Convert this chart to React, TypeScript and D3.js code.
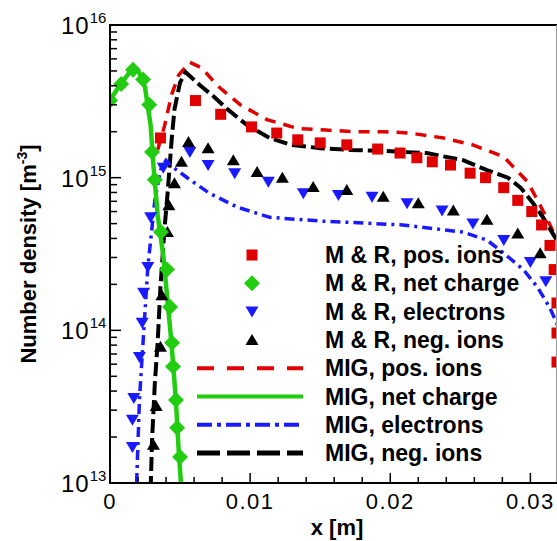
import React from 'react';
import * as d3 from 'd3';

// x in metres, number density in m^-3
const migPosIons: [number, number][] = [
  [0.0034, 1.52e15], [0.0039, 2.2e15], [0.0044, 3.5e15], [0.0049, 4.7e15], [0.0057, 5.7e15],
  [0.0066, 5.2e15], [0.0076, 4.05e15], [0.0093, 3.0e15], [0.0112, 2.4e15], [0.0134, 2.1e15],
  [0.0154, 2.05e15], [0.0175, 2.0e15], [0.0196, 2.0e15], [0.0214, 1.96e15], [0.0238, 1.82e15],
  [0.0259, 1.64e15], [0.0281, 1.37e15], [0.0298, 9.4e14], [0.0307, 6.6e14], [0.0314, 4.9e14],
  [0.0321, 3.6e14],
];

const migNetCharge: [number, number][] = [
  [0, 3.2e15], [0.0007, 4.05e15], [0.0014, 4.9e15], [0.0017, 5.3e15], [0.0021, 4.85e15],
  [0.0025, 3.9e15], [0.0029, 2.2e15], [0.0031, 1.2e15], [0.0034, 5.7e14], [0.0038, 3.1e14],
  [0.0041, 1.58e14], [0.0044, 8.0e13], [0.0047, 3.5e13], [0.0049, 1.65e13], [0.0051, 9.0e12],
];

const migElectrons: [number, number][] = [
  [0.0019, 1.0e13], [0.0021, 3.5e13], [0.0024, 9.6e13], [0.0027, 2.6e14], [0.0032, 7.1e14],
  [0.0036, 1.12e15], [0.004, 1.3e15], [0.0045, 1.17e15], [0.0057, 9.7e14], [0.0071, 7.9e14],
  [0.0091, 6.4e14], [0.0114, 5.5e14], [0.015, 5.2e14], [0.0209, 4.9e14], [0.0252, 4.4e14],
  [0.0269, 3.9e14], [0.0281, 3.2e14], [0.0295, 2.5e14], [0.0305, 1.92e14], [0.0314, 1.4e14],
  [0.0321, 1.0e14],
];

const migNegIons: [number, number][] = [
  [0.0029, 9.0e12], [0.003, 1.9e13], [0.0032, 4.5e13], [0.0034, 8.3e13], [0.0036, 1.92e14],
  [0.0039, 4.75e14], [0.0041, 7.7e14], [0.0044, 1.77e15], [0.0046, 2.8e15], [0.005, 4.2e15],
  [0.0054, 4.9e15], [0.0064, 4.05e15], [0.0074, 3.4e15], [0.0084, 2.8e15], [0.0098, 2.2e15],
  [0.0114, 1.82e15], [0.0129, 1.64e15], [0.015, 1.56e15], [0.0171, 1.52e15], [0.0193, 1.5e15],
  [0.0212, 1.47e15], [0.0226, 1.45e15], [0.0252, 1.3e15], [0.0269, 1.12e15], [0.0284, 1.0e15],
  [0.0293, 8.6e14], [0.0302, 6.8e14], [0.0309, 5.5e14], [0.0316, 4.3e14], [0.0323, 3.4e14],
];

const mrPosIons: [number, number][] = [
  [0.0036, 1.82e15], [0.0061, 3.2e15], [0.0079, 2.6e15], [0.0101, 2.15e15], [0.0119, 1.96e15],
  [0.0134, 1.77e15], [0.015, 1.69e15], [0.0169, 1.64e15], [0.0191, 1.54e15], [0.0207, 1.45e15],
  [0.0219, 1.35e15], [0.023, 1.27e15], [0.0243, 1.21e15], [0.0257, 1.07e15], [0.0268, 1.0e15],
  [0.0281, 8.6e14], [0.0291, 7.1e14], [0.0301, 6.0e14], [0.0308, 4.9e14], [0.0314, 3.6e14],
  [0.0317, 2.5e14], [0.0319, 1.51e14], [0.0319, 9.6e13], [0.0319, 6.2e13],
];

const mrNetCharge: [number, number][] = [
  [0, 3.2e15], [0.0008, 4.1e15], [0.00164, 5.1e15], [0.00236, 4.4e15], [0.0028, 3.0e15],
  [0.003, 1.47e15], [0.0032, 9.7e14], [0.00364, 4.4e14], [0.00407, 2.5e14], [0.00429, 1.42e14],
  [0.00443, 8.3e13], [0.0045, 5.8e13], [0.00471, 3.5e13], [0.00479, 2.3e13], [0.005, 1.48e13],
];

const mrElectrons: [number, number][] = [
  [0.0016, 1.72e13], [0.0016, 2.6e13], [0.0017, 3.6e13], [0.0021, 6.7e13], [0.0023, 1.12e14],
  [0.0024, 1.76e14], [0.0027, 2.6e14], [0.0029, 5.5e14], [0.0038, 1.16e15], [0.0057, 1.47e15],
  [0.007, 1.21e15], [0.0089, 1.07e15], [0.0113, 9.4e14], [0.0138, 7.9e14], [0.0163, 7.7e14],
  [0.0187, 7.5e14], [0.0212, 6.8e14], [0.0237, 6.1e14], [0.0259, 5.0e14], [0.0281, 3.9e14],
  [0.03, 2.8e14], [0.0311, 2.1e14],
];

const mrNegIons: [number, number][] = [
  [0.0031, 1.78e13], [0.0033, 3.2e13], [0.0036, 7.8e13], [0.0037, 1.7e14], [0.0041, 4.4e14],
  [0.0042, 6.6e14], [0.0046, 9.2e14], [0.0051, 1.27e15], [0.0056, 1.71e15], [0.007, 1.56e15],
  [0.0088, 1.3e15], [0.0105, 1.09e15], [0.0123, 1.0e15], [0.0145, 8.7e14], [0.0169, 8.3e14],
  [0.0195, 7.5e14], [0.022, 6.8e14], [0.0245, 6.1e14], [0.0269, 5.3e14], [0.0291, 4.3e14],
  [0.0307, 3.2e14],
];

const xTicks = [0, 0.01, 0.02, 0.03];
const xTickLabels = ['0', '0.01', '0.02', '0.03'];
const yExponents = [13, 14, 15, 16];

const legendLabels = [
  'M & R, pos. ions',
  'M & R, net charge',
  'M & R, electrons',
  'M & R, neg. ions',
  'MIG, pos. ions',
  'MIG, net charge',
  'MIG, electrons',
  'MIG, neg. ions',
];

const RED = '#e00000';
const GREEN = '#22cc11';
const BLUE = '#1a1aff';
const BLACK = '#000';
const FONT = '"Liberation Sans", Arial, sans-serif';

const W = 557;
const H = 541;
const left = 110;
const right = 557;
const top = 25;
const bottom = 483;

type Kind = 'square' | 'diamond' | 'down' | 'up';

function marker(kind: Kind, cx: number, cy: number, color: string, key: string | number) {
  if (kind === 'square') {
    return <rect key={key} x={cx - 5.5} y={cy - 5.5} width={11} height={11} fill={color} />;
  }
  if (kind === 'diamond') {
    const r = 8;
    return (
      <path key={key} d={`M${cx},${cy - r}L${cx + r},${cy}L${cx},${cy + r}L${cx - r},${cy}Z`} fill={color} />
    );
  }
  if (kind === 'down') {
    return (
      <path key={key} d={`M${cx - 6.5},${cy - 5}L${cx + 6.5},${cy - 5}L${cx},${cy + 6}Z`} fill={color} />
    );
  }
  return <path key={key} d={`M${cx - 6.5},${cy + 5}L${cx + 6.5},${cy + 5}L${cx},${cy - 6}Z`} fill={color} />;
}

export default function App() {
  const x = d3.scaleLinear().domain([0, 0.0319]).range([left, right]);
  const y = d3.scaleLog().domain([1e13, 1e16]).range([bottom, top]);

  const line = d3
    .line<[number, number]>()
    .x(d => x(d[0]))
    .y(d => y(d[1]));

  const minorX = d3.range(0, 0.0321, 0.002).filter(v => Math.abs(v / 0.01 - Math.round(v / 0.01)) > 1e-6);
  const minorY: number[] = [];
  for (let e = 13; e < 16; e++) {
    for (let m = 2; m <= 9; m++) minorY.push(m * Math.pow(10, e));
  }

  const lines = [
    { data: migPosIons, color: RED, dash: '11,8', width: 3.5 },
    { data: migNegIons, color: BLACK, dash: '14,5', width: 4 },
    { data: migElectrons, color: BLUE, dash: '10,5,3,5', width: 3.5 },
    { data: migNetCharge, color: GREEN, dash: undefined, width: 4.5 },
  ];

  const markers: { data: [number, number][]; color: string; kind: Kind }[] = [
    { data: mrPosIons, color: RED, kind: 'square' },
    { data: mrElectrons, color: BLUE, kind: 'down' },
    { data: mrNegIons, color: BLACK, kind: 'up' },
    { data: mrNetCharge, color: GREEN, kind: 'diamond' },
  ];

  const legendMarkers: { color: string; kind: Kind }[] = [
    { color: RED, kind: 'square' },
    { color: GREEN, kind: 'diamond' },
    { color: BLUE, kind: 'down' },
    { color: BLACK, kind: 'up' },
  ];
  const legendLines = [
    { color: RED, dash: '17,13', width: 4 },
    { color: GREEN, dash: undefined, width: 4 },
    { color: BLUE, dash: '15,5,4,5', width: 4 },
    { color: BLACK, dash: '23,7', width: 5 },
  ];
  const legendY = (i: number) => 255 + i * 28.3;

  return (
    <svg
      width={W}
      height={H}
      style={{ position: 'absolute', left: 0, top: 0, background: '#fff' }}
      fontFamily={FONT}
    >
      <defs>
        <clipPath id="plot">
          <rect x={left} y={top} width={right - left} height={bottom - top} />
        </clipPath>
      </defs>

      <g clipPath="url(#plot)">
        {lines.map((l, i) => (
          <path
            key={i}
            d={line(l.data) || ''}
            fill="none"
            stroke={l.color}
            strokeWidth={l.width}
            strokeDasharray={l.dash}
          />
        ))}
        {markers.map((s, i) => (
          <g key={i}>{s.data.map((d, j) => marker(s.kind, x(d[0]), y(d[1]), s.color, j))}</g>
        ))}
      </g>

      {/* legend */}
      {legendLabels.map((label, i) => {
        const ly = legendY(i);
        return (
          <g key={label}>
            {i < 4
              ? marker(legendMarkers[i].kind, 252, ly, legendMarkers[i].color, 'm')
              : (
                <line
                  x1={197}
                  x2={303}
                  y1={ly}
                  y2={ly}
                  stroke={legendLines[i - 4].color}
                  strokeWidth={legendLines[i - 4].width}
                  strokeDasharray={legendLines[i - 4].dash}
                />
              )}
            <text x={325} y={ly + 8} fontSize={23} fontWeight="bold" fill="#000">
              {label}
            </text>
          </g>
        );
      })}

      {/* frame */}
      <line x1={left} x2={right} y1={top} y2={top} stroke="#000" strokeWidth={2} />
      <line x1={right - 0.5} x2={right - 0.5} y1={top} y2={bottom} stroke="#999" strokeWidth={1} />
      <line x1={left} x2={left} y1={top - 1} y2={bottom + 1} stroke="#000" strokeWidth={2} />
      <line x1={left - 1} x2={right} y1={bottom} y2={bottom} stroke="#000" strokeWidth={2} />

      {/* x ticks */}
      {xTicks.map(t => (
        <line key={t} x1={x(t)} x2={x(t)} y1={bottom} y2={bottom - 10} stroke="#000" strokeWidth={1.5} />
      ))}
      {minorX.map(t => (
        <line key={t} x1={x(t)} x2={x(t)} y1={bottom} y2={bottom - 6} stroke="#000" strokeWidth={1.5} />
      ))}
      {xTicks.map((t, i) => (
        <text key={t} x={x(t)} y={509} fontSize={22} textAnchor="middle" letterSpacing={1.5} fill="#000">
          {xTickLabels[i]}
        </text>
      ))}

      {/* y ticks */}
      {yExponents.map(e => (
        <line key={e} x1={left} x2={left + 11} y1={y(Math.pow(10, e))} y2={y(Math.pow(10, e))} stroke="#000" strokeWidth={1.5} />
      ))}
      {minorY.map(v => (
        <line key={v} x1={left} x2={left + 7} y1={y(v)} y2={y(v)} stroke="#000" strokeWidth={1.5} />
      ))}
      {yExponents.map(e => (
        <text key={e} x={61} y={y(Math.pow(10, e)) + 9} fontSize={24} letterSpacing={1} fill="#000">
          10
          <tspan dy={-11} fontSize={15} letterSpacing={0}>
            {e}
          </tspan>
        </text>
      ))}

      {/* axis titles */}
      <text
        transform={`translate(36,${(top + bottom) / 2}) rotate(-90)`}
        textAnchor="middle"
        fontSize={22}
        fontWeight="bold"
        fill="#000"
      >
        Number density [m
        <tspan dy={-9} fontSize={14}>
          -3
        </tspan>
        <tspan dy={9}>]</tspan>
      </text>
      <text x={337} y={535} textAnchor="middle" fontSize={22} fontWeight="bold" fill="#000">
        x [m]
      </text>
    </svg>
  );
}
